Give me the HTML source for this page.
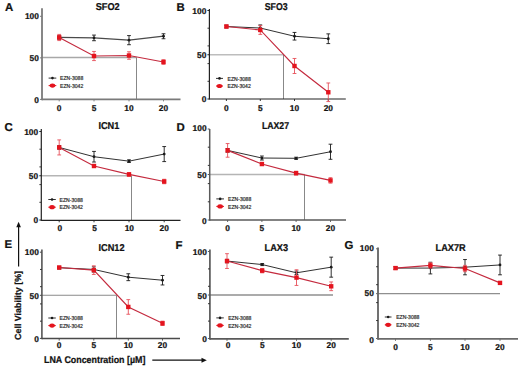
<!DOCTYPE html>
<html><head><meta charset="utf-8"><style>
html,body{margin:0;padding:0;background:#fff;}
body{width:520px;height:368px;overflow:hidden;}
svg{display:block;}
text{font-family:"Liberation Sans",sans-serif;fill:#111;text-rendering:geometricPrecision;}
.t,.ti,.le,.ax{stroke:#111;stroke-width:0.22px;}
.t{font-size:8.4px;font-weight:bold;}
.ti{font-size:9.2px;font-weight:bold;}
.le{font-size:11.4px;font-weight:bold;}
.lg{font-size:5.1px;fill:#222;stroke:#333;stroke-width:0.18px;}
.ax{font-size:8.9px;font-weight:bold;}
</style></head><body>
<svg width="520" height="368" viewBox="0 0 520 368">
<rect width="520" height="368" fill="#fff"/>
<line x1="42" y1="57.43" x2="136.5" y2="57.43" stroke="#a8a8a8" stroke-width="1.4"/>
<line x1="136.5" y1="57.43" x2="136.5" y2="99.4" stroke="#7a7a7a" stroke-width="0.9"/>
<line x1="42" y1="8.3" x2="42" y2="100.3" stroke="#7a7a7a" stroke-width="1.8"/>
<line x1="42" y1="99.4" x2="180.5" y2="99.4" stroke="#7a7a7a" stroke-width="1.8"/>
<line x1="40" y1="99.4" x2="42" y2="99.4" stroke="#7a7a7a" stroke-width="1"/>
<line x1="40" y1="57.85" x2="42" y2="57.85" stroke="#7a7a7a" stroke-width="1"/>
<line x1="40" y1="16.3" x2="42" y2="16.3" stroke="#7a7a7a" stroke-width="1"/>
<line x1="59.2" y1="99.4" x2="59.2" y2="101.4" stroke="#7a7a7a" stroke-width="0.9"/>
<line x1="94" y1="99.4" x2="94" y2="101.4" stroke="#7a7a7a" stroke-width="0.9"/>
<line x1="129" y1="99.4" x2="129" y2="101.4" stroke="#7a7a7a" stroke-width="0.9"/>
<line x1="163.5" y1="99.4" x2="163.5" y2="101.4" stroke="#7a7a7a" stroke-width="0.9"/>
<text x="38.9" y="18.75" class="t" text-anchor="end">100</text>
<text x="38.9" y="60.95" class="t" text-anchor="end">50</text>
<text x="38.9" y="103.25" class="t" text-anchor="end">0</text>
<text x="59.2" y="111.2" class="t" text-anchor="middle">0</text>
<text x="94" y="111.2" class="t" text-anchor="middle">5</text>
<text x="129" y="111.2" class="t" text-anchor="middle">10</text>
<text x="163.5" y="111.2" class="t" text-anchor="middle">20</text>
<text transform="translate(107.7,9.9) scale(1,1.08)" class="ti" text-anchor="middle">SFO2</text>
<text transform="translate(5,10.8) scale(1,1)" class="le">A</text>
<polyline points="59.2,37.49 94,37.91 129,40.15 163.5,36.24" fill="none" stroke="#4a4a4a" stroke-width="1.25"/>
<path d="M59.2 35.83V39.15M57.3 35.83H61.1M57.3 39.15H61.1" stroke="#1a1a1a" stroke-width="0.9" fill="none"/>
<path d="M94 35.08V40.73M92.1 35.08H95.9M92.1 40.73H95.9" stroke="#1a1a1a" stroke-width="0.9" fill="none"/>
<path d="M129 35.58V44.72M127.1 35.58H130.9M127.1 44.72H130.9" stroke="#1a1a1a" stroke-width="0.9" fill="none"/>
<path d="M163.5 33.75V38.74M161.6 33.75H165.4M161.6 38.74H165.4" stroke="#1a1a1a" stroke-width="0.9" fill="none"/>
<circle cx="59.2" cy="37.49" r="1.4" fill="#1a1a1a"/>
<circle cx="94" cy="37.91" r="1.4" fill="#1a1a1a"/>
<circle cx="129" cy="40.15" r="1.4" fill="#1a1a1a"/>
<circle cx="163.5" cy="36.24" r="1.4" fill="#1a1a1a"/>
<polyline points="59.2,37.49 94,56.02 129,55.52 163.5,62.01" fill="none" stroke="#c42a3e" stroke-width="1.15"/>
<path d="M59.2 34.42V40.57M57.3 34.42H61.1M57.3 40.57H61.1" stroke="#e6505a" stroke-width="0.9" fill="none"/>
<path d="M94 51.45V60.59M92.1 51.45H95.9M92.1 60.59H95.9" stroke="#e6505a" stroke-width="0.9" fill="none"/>
<path d="M129 51.78V59.26M127.1 51.78H130.9M127.1 59.26H130.9" stroke="#e6505a" stroke-width="0.9" fill="none"/>
<path d="M163.5 59.76V64.25M161.6 59.76H165.4M161.6 64.25H165.4" stroke="#e6505a" stroke-width="0.9" fill="none"/>
<rect x="57" y="35.29" width="4.4" height="4.4" fill="#e4141e"/>
<rect x="91.8" y="53.82" width="4.4" height="4.4" fill="#e4141e"/>
<rect x="126.8" y="53.32" width="4.4" height="4.4" fill="#e4141e"/>
<rect x="161.3" y="59.8" width="4.4" height="4.4" fill="#e4141e"/>
<line x1="48.6" y1="78.1" x2="56.3" y2="78.1" stroke="#1a1a1a" stroke-width="0.9"/>
<circle cx="52.45" cy="78.1" r="1.3" fill="#1a1a1a"/>
<line x1="48.6" y1="85.6" x2="56.3" y2="85.6" stroke="#e4141e" stroke-width="1"/>
<ellipse cx="52.45" cy="85.6" rx="2.8" ry="2.1" fill="#e4141e"/>
<text transform="translate(60,80.3) scale(1,1.12)" class="lg">EZN-3088</text>
<text transform="translate(60,87.8) scale(1,1.12)" class="lg">EZN-3042</text>
<line x1="209.4" y1="54.75" x2="283.5" y2="54.75" stroke="#bdbdbd" stroke-width="1.4"/>
<line x1="283.5" y1="54.75" x2="283.5" y2="99" stroke="#7a7a7a" stroke-width="0.9"/>
<line x1="209.4" y1="9" x2="209.4" y2="99.6" stroke="#222" stroke-width="1.2"/>
<line x1="209.4" y1="99" x2="345.8" y2="99" stroke="#222" stroke-width="1.2"/>
<line x1="207.4" y1="99" x2="209.4" y2="99" stroke="#222" stroke-width="1"/>
<line x1="207.4" y1="54.75" x2="209.4" y2="54.75" stroke="#222" stroke-width="1"/>
<line x1="207.4" y1="10.5" x2="209.4" y2="10.5" stroke="#222" stroke-width="1"/>
<line x1="207.5" y1="81.3" x2="209.4" y2="81.3" stroke="#333" stroke-width="1"/>
<line x1="207.5" y1="63.6" x2="209.4" y2="63.6" stroke="#333" stroke-width="1"/>
<line x1="207.5" y1="45.9" x2="209.4" y2="45.9" stroke="#333" stroke-width="1"/>
<line x1="207.5" y1="28.2" x2="209.4" y2="28.2" stroke="#333" stroke-width="1"/>
<line x1="226.4" y1="99" x2="226.4" y2="101" stroke="#222" stroke-width="0.9"/>
<line x1="260.3" y1="99" x2="260.3" y2="101" stroke="#222" stroke-width="0.9"/>
<line x1="294.5" y1="99" x2="294.5" y2="101" stroke="#222" stroke-width="0.9"/>
<line x1="328.3" y1="99" x2="328.3" y2="101" stroke="#222" stroke-width="0.9"/>
<text x="206.3" y="14.05" class="t" text-anchor="end">100</text>
<text x="206.3" y="58" class="t" text-anchor="end">50</text>
<text x="206.3" y="102.25" class="t" text-anchor="end">0</text>
<text x="226.4" y="111.1" class="t" text-anchor="middle">0</text>
<text x="260.3" y="111.1" class="t" text-anchor="middle">5</text>
<text x="294.5" y="111.1" class="t" text-anchor="middle">10</text>
<text x="328.3" y="111.1" class="t" text-anchor="middle">20</text>
<text transform="translate(276.2,10.1) scale(0.95,1.08)" class="ti" text-anchor="middle">SFO3</text>
<text transform="translate(176.4,11.1) scale(1,1)" class="le">B</text>
<polyline points="226.4,26.52 260.3,28.02 294.5,36.25 328.3,38.73" fill="none" stroke="#1a1a1a" stroke-width="0.9"/>
<path d="M226.4 25.19V27.85M224.5 25.19H228.3M224.5 27.85H228.3" stroke="#1a1a1a" stroke-width="0.9" fill="none"/>
<path d="M260.3 24.93V31.12M258.4 24.93H262.2M258.4 31.12H262.2" stroke="#1a1a1a" stroke-width="0.9" fill="none"/>
<path d="M294.5 32.45V40.06M292.6 32.45H296.4M292.6 40.06H296.4" stroke="#1a1a1a" stroke-width="0.9" fill="none"/>
<path d="M328.3 33.86V43.6M326.4 33.86H330.2M326.4 43.6H330.2" stroke="#1a1a1a" stroke-width="0.9" fill="none"/>
<circle cx="226.4" cy="26.52" r="1.4" fill="#1a1a1a"/>
<circle cx="260.3" cy="28.02" r="1.4" fill="#1a1a1a"/>
<circle cx="294.5" cy="36.25" r="1.4" fill="#1a1a1a"/>
<circle cx="328.3" cy="38.73" r="1.4" fill="#1a1a1a"/>
<polyline points="226.4,26.52 260.3,29.97 294.5,65.99 328.3,92.27" fill="none" stroke="#c42a3e" stroke-width="1.15"/>
<path d="M226.4 25.19V27.85M224.5 25.19H228.3M224.5 27.85H228.3" stroke="#e6505a" stroke-width="0.9" fill="none"/>
<path d="M260.3 25.55V34.39M258.4 25.55H262.2M258.4 34.39H262.2" stroke="#e6505a" stroke-width="0.9" fill="none"/>
<path d="M294.5 58.47V73.51M292.6 58.47H296.4M292.6 73.51H296.4" stroke="#e6505a" stroke-width="0.9" fill="none"/>
<path d="M328.3 82.98V101.57M326.4 82.98H330.2M326.4 101.57H330.2" stroke="#e6505a" stroke-width="0.9" fill="none"/>
<rect x="224.2" y="24.32" width="4.4" height="4.4" fill="#e4141e"/>
<rect x="258.1" y="27.77" width="4.4" height="4.4" fill="#e4141e"/>
<rect x="292.3" y="63.79" width="4.4" height="4.4" fill="#e4141e"/>
<rect x="326.1" y="90.07" width="4.4" height="4.4" fill="#e4141e"/>
<line x1="216" y1="78.4" x2="223" y2="78.4" stroke="#1a1a1a" stroke-width="0.9"/>
<circle cx="219.5" cy="78.4" r="1.3" fill="#1a1a1a"/>
<line x1="216" y1="86" x2="223" y2="86" stroke="#e4141e" stroke-width="1"/>
<ellipse cx="219.5" cy="86" rx="2.8" ry="2.1" fill="#e4141e"/>
<text transform="translate(227.5,80.6) scale(1,1.12)" class="lg">EZN-3088</text>
<text transform="translate(227.5,88.2) scale(1,1.12)" class="lg">EZN-3042</text>
<line x1="41.3" y1="175.75" x2="131.5" y2="175.75" stroke="#b5b5b5" stroke-width="1.4"/>
<line x1="131.5" y1="175.75" x2="131.5" y2="220.3" stroke="#7a7a7a" stroke-width="0.9"/>
<line x1="41.3" y1="129" x2="41.3" y2="220.9" stroke="#222" stroke-width="1.2"/>
<line x1="41.3" y1="220.3" x2="180.5" y2="220.3" stroke="#222" stroke-width="1.2"/>
<line x1="39.3" y1="220" x2="41.3" y2="220" stroke="#222" stroke-width="1"/>
<line x1="39.3" y1="175.75" x2="41.3" y2="175.75" stroke="#222" stroke-width="1"/>
<line x1="39.3" y1="131.5" x2="41.3" y2="131.5" stroke="#222" stroke-width="1"/>
<line x1="39.4" y1="202.3" x2="41.3" y2="202.3" stroke="#333" stroke-width="1"/>
<line x1="39.4" y1="184.6" x2="41.3" y2="184.6" stroke="#333" stroke-width="1"/>
<line x1="39.4" y1="166.9" x2="41.3" y2="166.9" stroke="#333" stroke-width="1"/>
<line x1="39.4" y1="149.2" x2="41.3" y2="149.2" stroke="#333" stroke-width="1"/>
<line x1="59.2" y1="220.3" x2="59.2" y2="222.3" stroke="#222" stroke-width="0.9"/>
<line x1="94" y1="220.3" x2="94" y2="222.3" stroke="#222" stroke-width="0.9"/>
<line x1="129" y1="220.3" x2="129" y2="222.3" stroke="#222" stroke-width="0.9"/>
<line x1="164.2" y1="220.3" x2="164.2" y2="222.3" stroke="#222" stroke-width="0.9"/>
<text x="38.2" y="134.65" class="t" text-anchor="end">100</text>
<text x="38.2" y="179" class="t" text-anchor="end">50</text>
<text x="38.2" y="223.25" class="t" text-anchor="end">0</text>
<text x="59.8" y="230.9" class="t" text-anchor="middle">0</text>
<text x="94.5" y="230.9" class="t" text-anchor="middle">5</text>
<text x="129.3" y="230.9" class="t" text-anchor="middle">10</text>
<text x="164.2" y="230.9" class="t" text-anchor="middle">20</text>
<text transform="translate(108.9,129.2) scale(1,1.08)" class="ti" text-anchor="middle">ICN1</text>
<text transform="translate(4.6,130.5) scale(1,1)" class="le">C</text>
<polyline points="59.2,147.43 94,156.72 129,161.15 164.2,154.07" fill="none" stroke="#1a1a1a" stroke-width="0.9"/>
<path d="M59.2 145.66V149.2M57.3 145.66H61.1M57.3 149.2H61.1" stroke="#1a1a1a" stroke-width="0.9" fill="none"/>
<path d="M94 151.41V162.03M92.1 151.41H95.9M92.1 162.03H95.9" stroke="#1a1a1a" stroke-width="0.9" fill="none"/>
<path d="M129 159.82V162.47M127.1 159.82H130.9M127.1 162.47H130.9" stroke="#1a1a1a" stroke-width="0.9" fill="none"/>
<path d="M164.2 146.55V161.59M162.3 146.55H166.1M162.3 161.59H166.1" stroke="#1a1a1a" stroke-width="0.9" fill="none"/>
<circle cx="59.2" cy="147.43" r="1.4" fill="#1a1a1a"/>
<circle cx="94" cy="156.72" r="1.4" fill="#1a1a1a"/>
<circle cx="129" cy="161.15" r="1.4" fill="#1a1a1a"/>
<circle cx="164.2" cy="154.07" r="1.4" fill="#1a1a1a"/>
<polyline points="59.2,147.43 94,166.01 129,174.42 164.2,181.5" fill="none" stroke="#c42a3e" stroke-width="1.15"/>
<path d="M59.2 139.91V154.95M57.3 139.91H61.1M57.3 154.95H61.1" stroke="#e6505a" stroke-width="0.9" fill="none"/>
<path d="M94 164.69V167.34M92.1 164.69H95.9M92.1 167.34H95.9" stroke="#e6505a" stroke-width="0.9" fill="none"/>
<path d="M129 172.65V176.19M127.1 172.65H130.9M127.1 176.19H130.9" stroke="#e6505a" stroke-width="0.9" fill="none"/>
<path d="M164.2 179.29V183.72M162.3 179.29H166.1M162.3 183.72H166.1" stroke="#e6505a" stroke-width="0.9" fill="none"/>
<rect x="57" y="145.23" width="4.4" height="4.4" fill="#e4141e"/>
<rect x="91.8" y="163.81" width="4.4" height="4.4" fill="#e4141e"/>
<rect x="126.8" y="172.22" width="4.4" height="4.4" fill="#e4141e"/>
<rect x="162" y="179.3" width="4.4" height="4.4" fill="#e4141e"/>
<line x1="48.3" y1="199.5" x2="55.8" y2="199.5" stroke="#1a1a1a" stroke-width="0.9"/>
<circle cx="52.05" cy="199.5" r="1.3" fill="#1a1a1a"/>
<line x1="48.3" y1="207.2" x2="55.8" y2="207.2" stroke="#e4141e" stroke-width="1"/>
<ellipse cx="52.05" cy="207.2" rx="2.8" ry="2.1" fill="#e4141e"/>
<text transform="translate(59.6,201.7) scale(1,1.12)" class="lg">EZN-3088</text>
<text transform="translate(59.6,209.4) scale(1,1.12)" class="lg">EZN-3042</text>
<line x1="209.7" y1="174.5" x2="304.5" y2="174.5" stroke="#b5b5b5" stroke-width="1.4"/>
<line x1="304.5" y1="174.5" x2="304.5" y2="220" stroke="#7a7a7a" stroke-width="0.9"/>
<line x1="209.7" y1="129" x2="209.7" y2="220.75" stroke="#5a5a5a" stroke-width="1.5"/>
<line x1="209.7" y1="220" x2="346" y2="220" stroke="#5a5a5a" stroke-width="1.5"/>
<line x1="207.7" y1="220" x2="209.7" y2="220" stroke="#5a5a5a" stroke-width="1"/>
<line x1="207.7" y1="174.5" x2="209.7" y2="174.5" stroke="#5a5a5a" stroke-width="1"/>
<line x1="207.7" y1="129" x2="209.7" y2="129" stroke="#5a5a5a" stroke-width="1"/>
<line x1="207.8" y1="201.8" x2="209.7" y2="201.8" stroke="#333" stroke-width="1"/>
<line x1="207.8" y1="183.6" x2="209.7" y2="183.6" stroke="#333" stroke-width="1"/>
<line x1="207.8" y1="165.4" x2="209.7" y2="165.4" stroke="#333" stroke-width="1"/>
<line x1="207.8" y1="147.2" x2="209.7" y2="147.2" stroke="#333" stroke-width="1"/>
<line x1="227.6" y1="220" x2="227.6" y2="222" stroke="#5a5a5a" stroke-width="0.9"/>
<line x1="261.9" y1="220" x2="261.9" y2="222" stroke="#5a5a5a" stroke-width="0.9"/>
<line x1="296.1" y1="220" x2="296.1" y2="222" stroke="#5a5a5a" stroke-width="0.9"/>
<line x1="330.5" y1="220" x2="330.5" y2="222" stroke="#5a5a5a" stroke-width="0.9"/>
<text x="206.6" y="130.8" class="t" text-anchor="end">100</text>
<text x="206.6" y="178.25" class="t" text-anchor="end">50</text>
<text x="206.6" y="224.45" class="t" text-anchor="end">0</text>
<text x="227.6" y="230.8" class="t" text-anchor="middle">0</text>
<text x="261.9" y="230.8" class="t" text-anchor="middle">5</text>
<text x="296.1" y="230.8" class="t" text-anchor="middle">10</text>
<text x="330.5" y="230.8" class="t" text-anchor="middle">20</text>
<text transform="translate(275.5,129.2) scale(0.95,1.08)" class="ti" text-anchor="middle">LAX27</text>
<text transform="translate(176.5,130.6) scale(1,1)" class="le">D</text>
<polyline points="227.6,150.38 261.9,158.03 296.1,158.3 330.5,151.75" fill="none" stroke="#1a1a1a" stroke-width="0.9"/>
<path d="M227.6 148.56V152.2M225.7 148.56H229.5M225.7 152.2H229.5" stroke="#1a1a1a" stroke-width="0.9" fill="none"/>
<path d="M261.9 156.03V160.03M260 156.03H263.8M260 160.03H263.8" stroke="#1a1a1a" stroke-width="0.9" fill="none"/>
<path d="M296.1 157.21V159.39M294.2 157.21H298M294.2 159.39H298" stroke="#1a1a1a" stroke-width="0.9" fill="none"/>
<path d="M330.5 144.2V159.3M328.6 144.2H332.4M328.6 159.3H332.4" stroke="#1a1a1a" stroke-width="0.9" fill="none"/>
<circle cx="227.6" cy="150.38" r="1.4" fill="#1a1a1a"/>
<circle cx="261.9" cy="158.03" r="1.4" fill="#1a1a1a"/>
<circle cx="296.1" cy="158.3" r="1.4" fill="#1a1a1a"/>
<circle cx="330.5" cy="151.75" r="1.4" fill="#1a1a1a"/>
<polyline points="227.6,150.38 261.9,164.03 296.1,173.13 330.5,180.41" fill="none" stroke="#c42a3e" stroke-width="1.15"/>
<path d="M227.6 143.56V157.21M225.7 143.56H229.5M225.7 157.21H229.5" stroke="#e6505a" stroke-width="0.9" fill="none"/>
<path d="M261.9 162.67V165.4M260 162.67H263.8M260 165.4H263.8" stroke="#e6505a" stroke-width="0.9" fill="none"/>
<path d="M296.1 171.31V174.95M294.2 171.31H298M294.2 174.95H298" stroke="#e6505a" stroke-width="0.9" fill="none"/>
<path d="M330.5 177.69V183.14M328.6 177.69H332.4M328.6 183.14H332.4" stroke="#e6505a" stroke-width="0.9" fill="none"/>
<rect x="225.4" y="148.19" width="4.4" height="4.4" fill="#e4141e"/>
<rect x="259.7" y="161.84" width="4.4" height="4.4" fill="#e4141e"/>
<rect x="293.9" y="170.94" width="4.4" height="4.4" fill="#e4141e"/>
<rect x="328.3" y="178.22" width="4.4" height="4.4" fill="#e4141e"/>
<line x1="216.3" y1="198.9" x2="224" y2="198.9" stroke="#1a1a1a" stroke-width="0.9"/>
<circle cx="220.15" cy="198.9" r="1.3" fill="#1a1a1a"/>
<line x1="216.3" y1="206.4" x2="224" y2="206.4" stroke="#e4141e" stroke-width="1"/>
<ellipse cx="220.15" cy="206.4" rx="2.8" ry="2.1" fill="#e4141e"/>
<text transform="translate(228,201.1) scale(1,1.12)" class="lg">EZN-3088</text>
<text transform="translate(228,208.6) scale(1,1.12)" class="lg">EZN-3042</text>
<line x1="41.9" y1="295.3" x2="116.5" y2="295.3" stroke="#8a8a8a" stroke-width="1.1"/>
<line x1="116.5" y1="295.3" x2="116.5" y2="338.6" stroke="#7a7a7a" stroke-width="0.9"/>
<line x1="41.9" y1="249.5" x2="41.9" y2="339.35" stroke="#4a4a4a" stroke-width="1.5"/>
<line x1="41.9" y1="338.6" x2="180" y2="338.6" stroke="#4a4a4a" stroke-width="1.5"/>
<line x1="39.9" y1="338.4" x2="41.9" y2="338.4" stroke="#4a4a4a" stroke-width="1"/>
<line x1="39.9" y1="295.3" x2="41.9" y2="295.3" stroke="#4a4a4a" stroke-width="1"/>
<line x1="39.9" y1="252.2" x2="41.9" y2="252.2" stroke="#4a4a4a" stroke-width="1"/>
<line x1="40" y1="321.16" x2="41.9" y2="321.16" stroke="#333" stroke-width="1"/>
<line x1="40" y1="303.92" x2="41.9" y2="303.92" stroke="#333" stroke-width="1"/>
<line x1="40" y1="286.68" x2="41.9" y2="286.68" stroke="#333" stroke-width="1"/>
<line x1="40" y1="269.44" x2="41.9" y2="269.44" stroke="#333" stroke-width="1"/>
<line x1="59.2" y1="338.6" x2="59.2" y2="340.6" stroke="#4a4a4a" stroke-width="0.9"/>
<line x1="93.8" y1="338.6" x2="93.8" y2="340.6" stroke="#4a4a4a" stroke-width="0.9"/>
<line x1="128.3" y1="338.6" x2="128.3" y2="340.6" stroke="#4a4a4a" stroke-width="0.9"/>
<line x1="162.5" y1="338.6" x2="162.5" y2="340.6" stroke="#4a4a4a" stroke-width="0.9"/>
<text x="38.8" y="255.2" class="t" text-anchor="end">100</text>
<text x="38.8" y="298.5" class="t" text-anchor="end">50</text>
<text x="38.8" y="342.15" class="t" text-anchor="end">0</text>
<text x="59.2" y="347.7" class="t" text-anchor="middle">0</text>
<text x="93.8" y="347.7" class="t" text-anchor="middle">5</text>
<text x="128.3" y="347.7" class="t" text-anchor="middle">10</text>
<text x="162.5" y="347.7" class="t" text-anchor="middle">20</text>
<text transform="translate(111.5,250.6) scale(1,1.08)" class="ti" text-anchor="middle">ICN12</text>
<text transform="translate(4.6,248.2) scale(1,1)" class="le">E</text>
<polyline points="59.2,267.72 93.8,269.44 128.3,277.2 162.5,280.21" fill="none" stroke="#1a1a1a" stroke-width="0.9"/>
<path d="M59.2 266.42V269.01M57.3 266.42H61.1M57.3 269.01H61.1" stroke="#1a1a1a" stroke-width="0.9" fill="none"/>
<path d="M93.8 266.85V272.03M91.9 266.85H95.7M91.9 272.03H95.7" stroke="#1a1a1a" stroke-width="0.9" fill="none"/>
<path d="M128.3 273.75V280.65M126.4 273.75H130.2M126.4 280.65H130.2" stroke="#1a1a1a" stroke-width="0.9" fill="none"/>
<path d="M162.5 275.47V284.96M160.6 275.47H164.4M160.6 284.96H164.4" stroke="#1a1a1a" stroke-width="0.9" fill="none"/>
<circle cx="59.2" cy="267.72" r="1.4" fill="#1a1a1a"/>
<circle cx="93.8" cy="269.44" r="1.4" fill="#1a1a1a"/>
<circle cx="128.3" cy="277.2" r="1.4" fill="#1a1a1a"/>
<circle cx="162.5" cy="280.21" r="1.4" fill="#1a1a1a"/>
<polyline points="59.2,267.54 93.8,270.13 128.3,306.94 162.5,323.31" fill="none" stroke="#c42a3e" stroke-width="1.15"/>
<path d="M59.2 266.25V268.84M57.3 266.25H61.1M57.3 268.84H61.1" stroke="#e6505a" stroke-width="0.9" fill="none"/>
<path d="M93.8 265.82V274.44M91.9 265.82H95.7M91.9 274.44H95.7" stroke="#e6505a" stroke-width="0.9" fill="none"/>
<path d="M128.3 299.61V314.26M126.4 299.61H130.2M126.4 314.26H130.2" stroke="#e6505a" stroke-width="0.9" fill="none"/>
<path d="M162.5 321.16V325.47M160.6 321.16H164.4M160.6 325.47H164.4" stroke="#e6505a" stroke-width="0.9" fill="none"/>
<rect x="57" y="265.34" width="4.4" height="4.4" fill="#e4141e"/>
<rect x="91.6" y="267.93" width="4.4" height="4.4" fill="#e4141e"/>
<rect x="126.1" y="304.74" width="4.4" height="4.4" fill="#e4141e"/>
<rect x="160.3" y="321.12" width="4.4" height="4.4" fill="#e4141e"/>
<line x1="48.3" y1="318" x2="55.8" y2="318" stroke="#1a1a1a" stroke-width="0.9"/>
<circle cx="52.05" cy="318" r="1.3" fill="#1a1a1a"/>
<line x1="48.3" y1="325.6" x2="55.8" y2="325.6" stroke="#e4141e" stroke-width="1"/>
<ellipse cx="52.05" cy="325.6" rx="2.8" ry="2.1" fill="#e4141e"/>
<text transform="translate(59.6,320.2) scale(1,1.12)" class="lg">EZN-3088</text>
<text transform="translate(59.6,327.8) scale(1,1.12)" class="lg">EZN-3042</text>
<line x1="209.9" y1="295" x2="333" y2="295" stroke="#8f8f8f" stroke-width="1.3"/>
<line x1="209.9" y1="249.5" x2="209.9" y2="339.75" stroke="#5a5a5a" stroke-width="1.7"/>
<line x1="209.9" y1="338.9" x2="348.8" y2="338.9" stroke="#5a5a5a" stroke-width="1.7"/>
<line x1="207.9" y1="338.5" x2="209.9" y2="338.5" stroke="#5a5a5a" stroke-width="1"/>
<line x1="207.9" y1="295" x2="209.9" y2="295" stroke="#5a5a5a" stroke-width="1"/>
<line x1="207.9" y1="251.5" x2="209.9" y2="251.5" stroke="#5a5a5a" stroke-width="1"/>
<line x1="208" y1="321.1" x2="209.9" y2="321.1" stroke="#333" stroke-width="1"/>
<line x1="208" y1="303.7" x2="209.9" y2="303.7" stroke="#333" stroke-width="1"/>
<line x1="208" y1="286.3" x2="209.9" y2="286.3" stroke="#333" stroke-width="1"/>
<line x1="208" y1="268.9" x2="209.9" y2="268.9" stroke="#333" stroke-width="1"/>
<line x1="227" y1="338.9" x2="227" y2="340.9" stroke="#5a5a5a" stroke-width="0.9"/>
<line x1="262.2" y1="338.9" x2="262.2" y2="340.9" stroke="#5a5a5a" stroke-width="0.9"/>
<line x1="296.5" y1="338.9" x2="296.5" y2="340.9" stroke="#5a5a5a" stroke-width="0.9"/>
<line x1="331.2" y1="338.9" x2="331.2" y2="340.9" stroke="#5a5a5a" stroke-width="0.9"/>
<text x="206.8" y="254.75" class="t" text-anchor="end">100</text>
<text x="206.8" y="298.6" class="t" text-anchor="end">50</text>
<text x="206.8" y="342.35" class="t" text-anchor="end">0</text>
<text x="228" y="348.2" class="t" text-anchor="middle">0</text>
<text x="262.4" y="348.2" class="t" text-anchor="middle">5</text>
<text x="296.5" y="348.2" class="t" text-anchor="middle">10</text>
<text x="331.2" y="348.2" class="t" text-anchor="middle">20</text>
<text transform="translate(276.3,251) scale(1,1.08)" class="ti" text-anchor="middle">LAX3</text>
<text transform="translate(175.5,248.8) scale(1,1)" class="le">F</text>
<polyline points="227,261.07 262.2,264.55 296.5,272.81 331.2,267.16" fill="none" stroke="#1a1a1a" stroke-width="0.9"/>
<path d="M227 259.33V262.81M225.1 259.33H228.9M225.1 262.81H228.9" stroke="#1a1a1a" stroke-width="0.9" fill="none"/>
<path d="M262.2 263.51V265.59M260.3 263.51H264.1M260.3 265.59H264.1" stroke="#1a1a1a" stroke-width="0.9" fill="none"/>
<path d="M296.5 271.07V274.56M294.6 271.07H298.4M294.6 274.56H298.4" stroke="#1a1a1a" stroke-width="0.9" fill="none"/>
<path d="M331.2 257.15V277.17M329.3 257.15H333.1M329.3 277.17H333.1" stroke="#1a1a1a" stroke-width="0.9" fill="none"/>
<circle cx="227" cy="261.07" r="1.4" fill="#1a1a1a"/>
<circle cx="262.2" cy="264.55" r="1.4" fill="#1a1a1a"/>
<circle cx="296.5" cy="272.81" r="1.4" fill="#1a1a1a"/>
<circle cx="331.2" cy="267.16" r="1.4" fill="#1a1a1a"/>
<polyline points="227,261.07 262.2,270.64 296.5,277.6 331.2,286.3" fill="none" stroke="#c42a3e" stroke-width="1.15"/>
<path d="M227 253.68V268.47M225.1 253.68H228.9M225.1 268.47H228.9" stroke="#e6505a" stroke-width="0.9" fill="none"/>
<path d="M262.2 268.47V272.81M260.3 268.47H264.1M260.3 272.81H264.1" stroke="#e6505a" stroke-width="0.9" fill="none"/>
<path d="M296.5 269.77V285.43M294.6 269.77H298.4M294.6 285.43H298.4" stroke="#e6505a" stroke-width="0.9" fill="none"/>
<path d="M331.2 281.95V290.65M329.3 281.95H333.1M329.3 290.65H333.1" stroke="#e6505a" stroke-width="0.9" fill="none"/>
<rect x="224.8" y="258.87" width="4.4" height="4.4" fill="#e4141e"/>
<rect x="260" y="268.44" width="4.4" height="4.4" fill="#e4141e"/>
<rect x="294.3" y="275.4" width="4.4" height="4.4" fill="#e4141e"/>
<rect x="329" y="284.1" width="4.4" height="4.4" fill="#e4141e"/>
<line x1="216.3" y1="317.9" x2="223.8" y2="317.9" stroke="#1a1a1a" stroke-width="0.9"/>
<circle cx="220.05" cy="317.9" r="1.3" fill="#1a1a1a"/>
<line x1="216.3" y1="325.4" x2="223.8" y2="325.4" stroke="#e4141e" stroke-width="1"/>
<ellipse cx="220.05" cy="325.4" rx="2.8" ry="2.1" fill="#e4141e"/>
<text transform="translate(228.2,320.1) scale(1,1.12)" class="lg">EZN-3088</text>
<text transform="translate(228.2,327.6) scale(1,1.12)" class="lg">EZN-3042</text>
<line x1="378" y1="293.65" x2="500" y2="293.65" stroke="#8f8f8f" stroke-width="1.2"/>
<line x1="378" y1="247.5" x2="378" y2="339.85" stroke="#6a6a6a" stroke-width="1.9"/>
<line x1="378" y1="338.9" x2="518" y2="338.9" stroke="#6a6a6a" stroke-width="1.9"/>
<line x1="376" y1="338.5" x2="378" y2="338.5" stroke="#6a6a6a" stroke-width="1"/>
<line x1="376" y1="293.65" x2="378" y2="293.65" stroke="#6a6a6a" stroke-width="1"/>
<line x1="376" y1="248.8" x2="378" y2="248.8" stroke="#6a6a6a" stroke-width="1"/>
<line x1="376.1" y1="320.56" x2="378" y2="320.56" stroke="#333" stroke-width="1"/>
<line x1="376.1" y1="302.62" x2="378" y2="302.62" stroke="#333" stroke-width="1"/>
<line x1="376.1" y1="284.68" x2="378" y2="284.68" stroke="#333" stroke-width="1"/>
<line x1="376.1" y1="266.74" x2="378" y2="266.74" stroke="#333" stroke-width="1"/>
<line x1="395.5" y1="338.9" x2="395.5" y2="340.9" stroke="#6a6a6a" stroke-width="0.9"/>
<line x1="430.4" y1="338.9" x2="430.4" y2="340.9" stroke="#6a6a6a" stroke-width="0.9"/>
<line x1="465" y1="338.9" x2="465" y2="340.9" stroke="#6a6a6a" stroke-width="0.9"/>
<line x1="500" y1="338.9" x2="500" y2="340.9" stroke="#6a6a6a" stroke-width="0.9"/>
<text x="373.8" y="251.35" class="t" text-anchor="end">100</text>
<text x="373.8" y="296.1" class="t" text-anchor="end">50</text>
<text x="373.8" y="343.45" class="t" text-anchor="end">0</text>
<text x="395.5" y="350" class="t" text-anchor="middle">0</text>
<text x="430.4" y="350" class="t" text-anchor="middle">5</text>
<text x="465" y="350" class="t" text-anchor="middle">10</text>
<text x="500" y="350" class="t" text-anchor="middle">20</text>
<text transform="translate(450.6,250.6) scale(1,1.08)" class="ti" text-anchor="middle">LAX7R</text>
<text transform="translate(344.5,248.8) scale(1,1)" class="le">G</text>
<polyline points="395.5,268.09 430.4,268.09 465,267.19 500,264.95" fill="none" stroke="#1a1a1a" stroke-width="0.9"/>
<path d="M395.5 266.74V269.43M393.6 266.74H397.4M393.6 269.43H397.4" stroke="#1a1a1a" stroke-width="0.9" fill="none"/>
<path d="M430.4 262.25V273.92M428.5 262.25H432.3M428.5 273.92H432.3" stroke="#1a1a1a" stroke-width="0.9" fill="none"/>
<path d="M465 259.56V274.81M463.1 259.56H466.9M463.1 274.81H466.9" stroke="#1a1a1a" stroke-width="0.9" fill="none"/>
<path d="M500 255.08V274.81M498.1 255.08H501.9M498.1 274.81H501.9" stroke="#1a1a1a" stroke-width="0.9" fill="none"/>
<circle cx="395.5" cy="268.09" r="1.4" fill="#1a1a1a"/>
<circle cx="430.4" cy="268.09" r="1.4" fill="#1a1a1a"/>
<circle cx="465" cy="267.19" r="1.4" fill="#1a1a1a"/>
<circle cx="500" cy="264.95" r="1.4" fill="#1a1a1a"/>
<polyline points="395.5,268.09 430.4,265.39 465,268.53 500,282.89" fill="none" stroke="#c42a3e" stroke-width="1.15"/>
<path d="M395.5 266.74V269.43M393.6 266.74H397.4M393.6 269.43H397.4" stroke="#e6505a" stroke-width="0.9" fill="none"/>
<path d="M430.4 262.7V268.09M428.5 262.7H432.3M428.5 268.09H432.3" stroke="#e6505a" stroke-width="0.9" fill="none"/>
<path d="M465 265.39V271.67M463.1 265.39H466.9M463.1 271.67H466.9" stroke="#e6505a" stroke-width="0.9" fill="none"/>
<path d="M500 281.54V284.23M498.1 281.54H501.9M498.1 284.23H501.9" stroke="#e6505a" stroke-width="0.9" fill="none"/>
<rect x="393.3" y="265.89" width="4.4" height="4.4" fill="#e4141e"/>
<rect x="428.2" y="263.19" width="4.4" height="4.4" fill="#e4141e"/>
<rect x="462.8" y="266.33" width="4.4" height="4.4" fill="#e4141e"/>
<rect x="497.8" y="280.69" width="4.4" height="4.4" fill="#e4141e"/>
<line x1="384.8" y1="317" x2="391.5" y2="317" stroke="#1a1a1a" stroke-width="0.9"/>
<circle cx="388.15" cy="317" r="1.3" fill="#1a1a1a"/>
<line x1="384.8" y1="324.8" x2="391.5" y2="324.8" stroke="#e4141e" stroke-width="1"/>
<ellipse cx="388.15" cy="324.8" rx="2.8" ry="2.1" fill="#e4141e"/>
<text transform="translate(396.2,319.2) scale(1,1.12)" class="lg">EZN-3088</text>
<text transform="translate(396.2,327) scale(1,1.12)" class="lg">EZN-3042</text>
<line x1="18.6" y1="226" x2="18.6" y2="266.6" stroke="#111" stroke-width="1.2"/>
<path d="M16.3 227.2L18.6 221.7L20.9 227.2Z" fill="#111"/>
<text transform="translate(21.3,339.9) rotate(-90)" class="ax">Cell Viability [%]</text>
<text transform="translate(44,363.0) scale(1,1.1)" class="ax">LNA Concentration [µM]</text>
<line x1="152.3" y1="360.2" x2="202" y2="360.2" stroke="#111" stroke-width="1.3"/>
<path d="M201.5 357.7L206.8 360.2L201.5 362.7Z" fill="#111"/>
</svg>
</body></html>
